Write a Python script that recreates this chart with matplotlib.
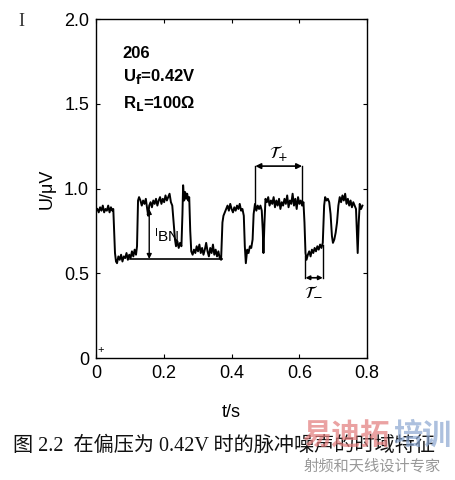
import matplotlib
matplotlib.use("Agg")
import matplotlib.pyplot as plt

# ---------------- data ----------------
t_s = [0.004, 0.008, 0.012, 0.016, 0.020, 0.024, 0.028, 0.032, 0.036, 0.040, 0.044, 0.048, 0.051,
       0.056, 0.059,
       0.062, 0.066, 0.070, 0.074, 0.078, 0.082, 0.086, 0.090, 0.094, 0.098, 0.102, 0.106, 0.110,
       0.114, 0.118, 0.121,
       0.124, 0.127, 0.131, 0.135, 0.139, 0.143, 0.147, 0.151, 0.154, 0.157, 0.161, 0.165, 0.169,
       0.173, 0.177, 0.181, 0.185, 0.189, 0.193, 0.197, 0.201, 0.205, 0.209, 0.213, 0.217, 0.221,
       0.225,
       0.229, 0.233, 0.236, 0.240, 0.244, 0.248, 0.252,
       0.255, 0.257, 0.260, 0.263, 0.266, 0.269, 0.272, 0.275,
       0.278, 0.281,
       0.285, 0.289, 0.293, 0.297, 0.301, 0.305, 0.309, 0.313, 0.317, 0.321, 0.325, 0.329, 0.333,
       0.337, 0.341, 0.345, 0.349, 0.353, 0.357, 0.361, 0.365, 0.369,
       0.373, 0.376,
       0.380, 0.384, 0.388, 0.392, 0.396, 0.400, 0.404, 0.408, 0.412, 0.416, 0.420, 0.424, 0.428,
       0.432,
       0.436, 0.439, 0.442, 0.446, 0.450, 0.454, 0.458, 0.462, 0.465, 0.469, 0.473, 0.477, 0.481,
       0.485, 0.489, 0.492, 0.494, 0.497, 0.500,
       0.504, 0.508, 0.512, 0.516, 0.520, 0.524, 0.528, 0.532, 0.536, 0.540, 0.544, 0.548, 0.552,
       0.556, 0.560, 0.564, 0.568, 0.572, 0.576, 0.580, 0.584, 0.588, 0.592, 0.596, 0.600, 0.604,
       0.608, 0.612,
       0.615, 0.618, 0.621, 0.625, 0.629, 0.633, 0.637, 0.641, 0.645, 0.649, 0.653, 0.657, 0.661,
       0.665, 0.669,
       0.673, 0.676, 0.680, 0.684, 0.688,
       0.692, 0.696, 0.699, 0.703, 0.707, 0.711, 0.715, 0.719, 0.723, 0.727, 0.731, 0.735, 0.739,
       0.743, 0.747, 0.751, 0.755, 0.759,
       0.763, 0.767, 0.770, 0.772, 0.775, 0.778, 0.782, 0.786]

u_uv = [0.88, 0.86, 0.89, 0.87, 0.90, 0.86, 0.88, 0.87, 0.90, 0.86, 0.89, 0.87, 0.88,
        0.62, 0.57,
        0.56, 0.60, 0.58, 0.61, 0.57, 0.60, 0.59, 0.62, 0.58, 0.61, 0.59, 0.63, 0.60,
        0.64, 0.61, 0.66,
        0.93, 0.95, 0.93, 0.90, 0.93, 0.91, 0.94, 0.88, 0.84, 0.90, 0.92, 0.89, 0.93,
        0.91, 0.94, 0.90, 0.93, 0.95, 0.91, 0.94, 0.92, 0.96, 0.93, 0.95, 0.97, 0.92,
        0.90,
        0.80, 0.70, 0.66, 0.69, 0.65, 0.68, 0.66,
        0.85, 1.02, 0.93, 0.98, 0.94, 0.97, 0.93, 0.95,
        0.75, 0.63,
        0.61, 0.64, 0.62, 0.66, 0.63, 0.67, 0.62, 0.65, 0.61, 0.64, 0.68, 0.63, 0.60,
        0.65, 0.62, 0.67, 0.61, 0.64, 0.60, 0.63, 0.59, 0.58,
        0.80, 0.84,
        0.86, 0.88, 0.90, 0.87, 0.91, 0.88, 0.86, 0.89, 0.87, 0.90, 0.88, 0.91, 0.87,
        0.88,
        0.84, 0.66, 0.56, 0.64, 0.62, 0.66, 0.65, 0.70, 0.85, 0.91, 0.87, 0.90, 0.88,
        0.90, 0.87, 0.75, 0.62, 0.80, 0.94,
        0.92, 0.95, 0.90, 0.93, 0.91, 0.95, 0.89, 0.93, 0.90, 0.94, 0.88, 0.92, 0.90,
        0.94, 0.91, 0.96, 0.89, 0.93, 0.91, 0.97, 0.90, 0.94, 0.88, 0.95, 0.91, 0.93,
        0.90, 0.92,
        0.80, 0.62, 0.58, 0.61, 0.63, 0.60, 0.64, 0.62, 0.65, 0.63, 0.66, 0.64, 0.67,
        0.65, 0.68,
        0.90, 0.95, 0.93, 0.94, 0.92,
        0.85, 0.72, 0.68, 0.70, 0.74, 0.80, 0.90, 0.95, 0.92, 0.96, 0.93, 0.97, 0.91,
        0.94, 0.90, 0.93, 0.89, 0.92,
        0.90, 0.88, 0.72, 0.62, 0.80, 0.91, 0.88, 0.90]

x_ticks = [0, 0.2, 0.4, 0.6, 0.8]
x_tick_labels = ["0", "0.2", "0.4", "0.6", "0.8"]
y_ticks = [0, 0.5, 1.0, 1.5, 2.0]
y_tick_labels = ["0", "0.5", "1.0", "1.5", "2.0"]

# annotation values
baseline_t = [0.100, 0.372]
baseline_u = 0.585
ibn_t = 0.157
ibn_top = 0.88
tau_plus_t = [0.470, 0.608]
tau_plus_u = 1.133
tau_plus_feet = [0.89, 0.91]
tau_minus_t = [0.618, 0.669]
tau_minus_u = 0.474
tau_minus_feet = [0.60, 0.67]

# ---------------- figure ----------------
plt.rcParams['font.family'] = ['Liberation Sans', 'DejaVu Sans']
fig = plt.figure(figsize=(4.55, 4.8), dpi=100)
ax = fig.add_axes([0.211, 0.254, 0.596, 0.706])

ax.plot(t_s, u_uv, color='black', lw=1.4)

ax.set_xlim(0, 0.8)
ax.set_ylim(0, 2.0)
ax.set_xticks(x_ticks)
ax.set_xticklabels(x_tick_labels)
ax.set_yticks(y_ticks)
ax.set_yticklabels(y_tick_labels)
ax.tick_params(direction='in', length=3, width=0.8, labelsize=13,
               top=True, right=True, pad=5)
for s in ax.spines.values():
    s.set_linewidth(1.0)

ax.set_xlabel('t/s', fontsize=13, labelpad=16)
ax.set_ylabel('U/μV', fontsize=13, labelpad=6)

# text block
ax.text(0.079, 1.80, '206', fontsize=12, fontweight='bold', va='center', ha='left')
ax.text(0.079, 1.66, r'U$_\mathbf{f}$=0.42V', fontsize=12, fontweight='bold', va='center', ha='left')
ax.text(0.079, 1.50, r'R$_\mathbf{L}$=100Ω', fontsize=12, fontweight='bold', va='center', ha='left')

# baseline and I_BN
ax.plot(baseline_t, [baseline_u, baseline_u], color='black', lw=1.2)
ax.annotate('', xy=(ibn_t, ibn_top), xytext=(ibn_t, baseline_u),
            arrowprops=dict(arrowstyle='<|-|>', color='black', lw=1.0,
                            mutation_scale=7, shrinkA=0, shrinkB=0))
ax.text(0.172, 0.72, r'$\mathregular{^{I}BN}$', fontsize=11, va='center', ha='left')

# tau+
ax.plot([tau_plus_t[0], tau_plus_t[0]], [tau_plus_feet[0], tau_plus_u], color='black', lw=1.0)
ax.plot([tau_plus_t[1], tau_plus_t[1]], [tau_plus_feet[1], tau_plus_u], color='black', lw=1.0)
ax.annotate('', xy=(tau_plus_t[1], tau_plus_u), xytext=(tau_plus_t[0], tau_plus_u),
            arrowprops=dict(arrowstyle='<|-|>', color='black', lw=1.2,
                            mutation_scale=8, shrinkA=0, shrinkB=0))
ax.text(0.539, 1.21, r'$\mathcal{T}_{+}$', fontsize=12, va='center', ha='center')

# tau-
ax.plot([tau_minus_t[0], tau_minus_t[0]], [tau_minus_u, tau_minus_feet[0]], color='black', lw=1.0)
ax.plot([tau_minus_t[1], tau_minus_t[1]], [tau_minus_u, tau_minus_feet[1]], color='black', lw=1.0)
ax.annotate('', xy=(tau_minus_t[1], tau_minus_u), xytext=(tau_minus_t[0], tau_minus_u),
            arrowprops=dict(arrowstyle='<|-|>', color='black', lw=1.2,
                            mutation_scale=6, shrinkA=0, shrinkB=0))
ax.text(0.643, 0.40, r'$\mathcal{T}_{-}$', fontsize=12, va='center', ha='center')

# small plus near origin
ax.text(0.014, 0.05, '+', fontsize=8, va='center', ha='center')

# cursor glyph top-left
fig.text(21 / 455, 1 - 22 / 480, 'I', fontsize=13, family='Liberation Serif',
         color='#333333', ha='center', va='center')

# caption
fig.text(13 / 455, 1 - 446 / 480, '图 2.2  在偏压为 0.42V 时的脉冲噪声的时域特征',
         fontsize=14.5, family=['Liberation Serif', 'Noto Sans CJK SC'],
         ha='left', va='center', color='#111111')

# watermark
fig.text(302 / 455, 1 - 435 / 480, '易迪拓', fontsize=21, fontweight='bold',
         family=['Noto Sans CJK SC'], color='#e27b7b', alpha=0.7, ha='left', va='center')
fig.text(393 / 455, 1 - 435 / 480, '培训', fontsize=21, fontweight='bold',
         family=['Noto Sans CJK SC'], color='#8aa6d0', alpha=0.7, ha='left', va='center')
fig.text(304 / 455, 1 - 466 / 480, '射频和天线设计专家', fontsize=11,
         family=['Noto Sans CJK SC'], color='#999999', ha='left', va='center')

fig.savefig('out.png', dpi=100)
